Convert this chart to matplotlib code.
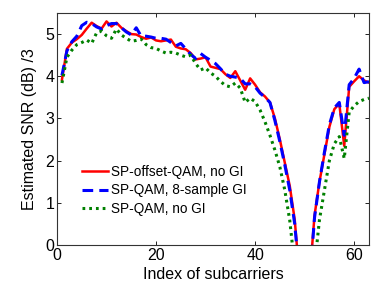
import matplotlib
matplotlib.use("Agg")
import matplotlib.pyplot as plt
import numpy as np

plt.rcParams['font.family'] = ['Liberation Sans', 'DejaVu Sans']

subcarriers = list(range(1, 64))

snr_offset_qam = [3.92, 4.65, 4.80, 4.88, 4.98, 5.13, 5.27, 5.19, 5.13, 5.30,
                  5.18, 5.27, 5.15, 5.07, 5.00, 4.99, 4.93, 4.89, 4.92, 4.85,
                  4.83, 4.85, 4.87, 4.70, 4.66, 4.64, 4.55, 4.40, 4.42, 4.45,
                  4.23, 4.20, 4.17, 4.05, 3.96, 4.12, 3.90, 3.68, 3.95, 3.80,
                  3.62, 3.52, 3.38, 3.00, 2.50, 1.95, 1.40, 0.60, -0.80, -3.00,
                  -0.80, 0.70, 1.50, 2.15, 2.80, 3.22, 3.35, 2.35, 3.75, 3.88,
                  4.00, 3.90, 3.85]

snr_qam_gi = [4.02, 4.60, 4.82, 4.95, 5.20, 5.28, 5.25, 5.17, 5.12, 5.20,
              5.25, 5.25, 5.15, 5.05, 4.98, 5.15, 4.95, 4.95, 4.93, 4.90,
              4.90, 4.88, 4.80, 4.72, 4.78, 4.65, 4.52, 4.42, 4.54, 4.45,
              4.38, 4.30, 4.18, 4.05, 4.00, 3.98, 3.95, 3.82, 3.82, 3.75,
              3.60, 3.50, 3.38, 2.95, 2.45, 1.90, 1.30, 0.50, -0.80, -3.00,
              -0.90, 0.65, 1.50, 2.20, 2.85, 3.25, 3.38, 2.60, 3.80, 3.95,
              4.17, 3.85, 3.87]

snr_qam_nogi = [3.84, 4.45, 4.62, 4.75, 4.80, 4.86, 4.78, 5.03, 5.07, 4.96,
                4.90, 5.12, 4.98, 4.90, 4.83, 4.85, 4.88, 4.75, 4.68, 4.66,
                4.60, 4.55, 4.57, 4.55, 4.50, 4.46, 4.50, 4.30, 4.15, 4.20,
                4.08, 4.00, 3.88, 3.78, 3.75, 3.84, 3.72, 3.38, 3.48, 3.40,
                3.20, 2.92, 2.60, 2.25, 1.85, 1.30, 0.58, -0.50, -3.00, -4.00,
                -3.00, -0.50, 0.60, 1.30, 2.00, 2.40, 2.57, 2.05, 3.15, 3.30,
                3.40, 3.45, 3.48]

labels = ['SP-offset-QAM, no GI', 'SP-QAM, 8-sample GI', 'SP-QAM, no GI']

fig = plt.figure(figsize=(3.71, 2.88), dpi=100)
ax = fig.add_axes([57/371, 43/288, 312/371, 232/288])

ax.plot(subcarriers, snr_offset_qam, color=(1, 0, 0), lw=1.8, label=labels[0])
ax.plot(subcarriers, snr_qam_gi, color=(0, 0, 1), lw=2.2, ls=(0, (3.5, 2)), label=labels[1])
ax.plot(subcarriers, snr_qam_nogi, color=(0, 0.5, 0), lw=2.2, ls=(0, (0.9, 1.3)), label=labels[2])

ax.set_xlim(0, 63)
ax.set_ylim(0, 5.5)
ax.set_xticks([0, 20, 40, 60])
ax.set_yticks([0, 1, 2, 3, 4, 5])
ax.tick_params(direction='in', top=True, right=True, labelsize=11.5, length=3, width=0.6, pad=2)
for s in ax.spines.values():
    s.set_linewidth(0.8)
    s.set_color('#333333')

ax.set_xlabel('Index of subcarriers', fontsize=11.5, labelpad=3)
ax.set_ylabel('Estimated SNR (dB) /3', fontsize=11.5, labelpad=6)

leg = ax.legend(loc='upper left', bbox_to_anchor=(0.08, 0.345), frameon=False,
                fontsize=9.8, handlelength=1.9, handletextpad=0.2,
                labelspacing=0.32, borderaxespad=0, borderpad=0)

fig.savefig('out.png', dpi=100)
